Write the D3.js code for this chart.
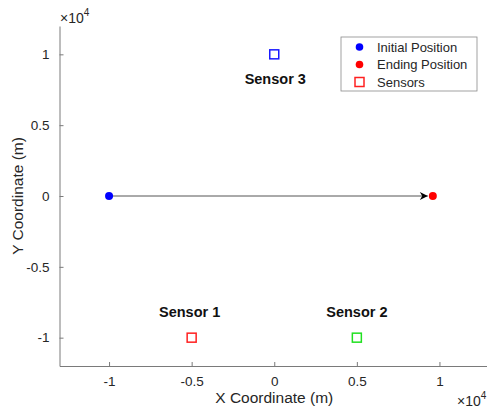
<!DOCTYPE html>
<html>
<head>
<meta charset="utf-8">
<script src="https://cdn.jsdelivr.net/npm/d3@7"></script>
<style>
  body { margin: 0; background: #fff; }
  svg { font-family: Helvetica, Arial, "Liberation Sans", sans-serif; }
</style>
</head>
<body>
<svg id="plot" width="487" height="412"></svg>
<script>
// data
const startPos = [-10000, 0];
const endPos = [9600, 0];
const sensorNames = ["Sensor 1", "Sensor 2", "Sensor 3"];
const sensorX = [-5000, 5000, 0];
const sensorY = [-10000, -10000, 10000];
const sensorColors = ["#ff2020", "#20e020", "#1a1aff"];
const xTicks = [-10000, -5000, 0, 5000, 10000];
const yTicks = [-10000, -5000, 0, 5000, 10000];
const legendLabels = ["Initial Position", "Ending Position", "Sensors"];

const svg = d3.select("svg#plot");
const axisColor = "#7a7a7a";
const textColor = "#262626";

// plot area
const margin = { left: 59.5, top: 26, right: -2, bottom: 46 };
const width = +svg.attr("width") - margin.left - margin.right;
const height = +svg.attr("height") - margin.top - margin.bottom;

const xScale = d3.scaleLinear().domain([-13000, 13000]).range([0, width]);
const yScale = d3.scaleLinear().domain([-12000, 12000]).range([height, 0]);

const g = svg.append("g").attr("transform", `translate(${margin.left}, ${margin.top})`);

// axes, ticks pointing inward like matlab
const fmt = d => d3.format("~g")(d / 10000).replace("\u2212", "-");
const xAxis = g.append("g")
  .attr("transform", `translate(0, ${height})`)
  .call(d3.axisBottom(xScale).tickValues(xTicks).tickFormat(fmt).tickSizeInner(-4).tickSizeOuter(0).tickPadding(10));
const yAxis = g.append("g")
  .call(d3.axisLeft(yScale).tickValues(yTicks).tickFormat(fmt).tickSizeInner(-4).tickSizeOuter(0).tickPadding(10));

[xAxis, yAxis].forEach(ax => {
  ax.select(".domain").attr("stroke", axisColor);
  ax.selectAll(".tick line").attr("stroke", axisColor);
  ax.selectAll(".tick text").attr("fill", textColor).style("font-size", "13.5px").style("font-family", "inherit");
});

// exponent labels
const expY = svg.append("text").attr("x", margin.left + 0.5).attr("y", 23)
  .attr("fill", textColor).style("font-size", "14px");
expY.append("tspan").text("\u00d710");
expY.append("tspan").attr("dy", -7).style("font-size", "10px").text("4");

const expX = svg.append("text").attr("x", 457).attr("y", 406)
  .attr("fill", textColor).style("font-size", "14px");
expX.append("tspan").text("\u00d710");
expX.append("tspan").attr("dy", -7).style("font-size", "10px").text("4");

// axis labels
svg.append("text").attr("x", margin.left + xScale(0)).attr("y", 403)
  .attr("text-anchor", "middle").attr("fill", textColor).style("font-size", "15.5px")
  .text("X Coordinate (m)");
svg.append("text")
  .attr("transform", `translate(23, ${margin.top + yScale(0)}) rotate(-90)`)
  .attr("text-anchor", "middle").attr("fill", textColor).style("font-size", "15.5px")
  .text("Y Coordinate (m)");

// arrow from start to end
svg.append("defs").append("marker")
  .attr("id", "arrowhead")
  .attr("viewBox", "0 0 10 10")
  .attr("refX", 10).attr("refY", 5)
  .attr("markerWidth", 10).attr("markerHeight", 8)
  .attr("markerUnits", "userSpaceOnUse")
  .attr("orient", "auto")
  .append("path")
  .attr("d", "M0,0 L10,5 L0,10 L3,5 Z")
  .attr("fill", "#000");

g.append("line")
  .attr("x1", xScale(startPos[0])).attr("y1", yScale(startPos[1]))
  .attr("x2", xScale(endPos[0]) - 5).attr("y2", yScale(endPos[1]))
  .attr("stroke", "#555").attr("stroke-width", 1)
  .attr("marker-end", "url(#arrowhead)");

// start and end points
g.append("circle").attr("cx", xScale(startPos[0])).attr("cy", yScale(startPos[1]))
  .attr("r", 4).attr("fill", "#0000ff");
g.append("circle").attr("cx", xScale(endPos[0])).attr("cy", yScale(endPos[1]))
  .attr("r", 4).attr("fill", "#ff0000");

// sensors
const sensors = sensorNames.map((n, i) => ({ name: n, x: sensorX[i], y: sensorY[i], color: sensorColors[i] }));
const sq = 9;
g.selectAll("rect.sensor")
  .data(sensors)
  .enter()
  .append("rect")
  .attr("class", "sensor")
  .attr("x", d => xScale(d.x) - sq / 2)
  .attr("y", d => yScale(d.y) - sq / 2)
  .attr("width", sq).attr("height", sq)
  .attr("fill", "none")
  .attr("stroke", d => d.color)
  .attr("stroke-width", 1.5);

g.selectAll("text.sensor")
  .data(sensors)
  .enter()
  .append("text")
  .attr("class", "sensor")
  .attr("x", d => xScale(d.x) + (d.x > 0 ? 0 : d.x < 0 ? -2 : 1))
  .attr("y", d => yScale(d.y) + (d.y > 0 ? 30 : -21))
  .attr("text-anchor", "middle")
  .attr("fill", "#111")
  .style("font-size", "14.5px")
  .style("font-weight", "bold")
  .text(d => d.name);

// legend
const legend = svg.append("g").attr("transform", "translate(341, 37)");
legend.append("rect").attr("width", 136).attr("height", 54)
  .attr("fill", "#fff").attr("stroke", "#8a8a8a").attr("stroke-width", 0.8);
const rows = legend.selectAll("g.row")
  .data(legendLabels)
  .enter()
  .append("g")
  .attr("class", "row")
  .attr("transform", (d, i) => `translate(0, ${10 + i * 17.5})`);
rows.each(function (d, i) {
  const r = d3.select(this);
  if (i < 2) {
    r.append("circle").attr("cx", 18.5).attr("cy", 0).attr("r", 3.8)
      .attr("fill", i === 0 ? "#0000ff" : "#ff0000");
  } else {
    r.append("rect").attr("x", 14).attr("y", -4.5).attr("width", 9).attr("height", 9)
      .attr("fill", "none").attr("stroke", "#ff2020").attr("stroke-width", 1.5);
  }
  r.append("text").attr("x", 36).attr("y", 4.5).attr("fill", textColor)
    .style("font-size", "13px").text(d);
});
</script>
</body>
</html>
